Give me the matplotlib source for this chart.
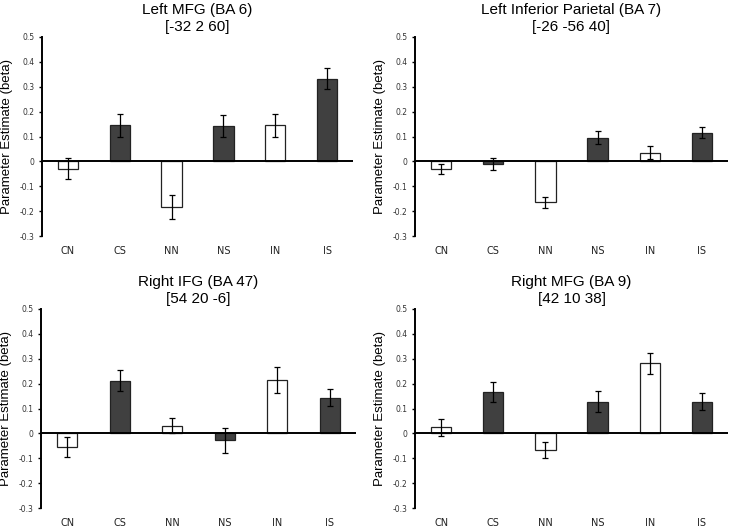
import matplotlib.pyplot as plt
import numpy as np

conditions = ["CN", "CS", "NN", "NS", "IN", "IS"]
bar_colors = ["white", "#404040", "white", "#404040", "white", "#404040"]

titles = ["Left MFG (BA 6)\n[-32 2 60]",
          "Left Inferior Parietal (BA 7)\n[-26 -56 40]",
          "Right IFG (BA 47)\n[54 20 -6]",
          "Right MFG (BA 9)\n[42 10 38]"]

left_mfg = [-0.030, 0.145, -0.182, 0.142, 0.145, 0.332]
left_mfg_err = [0.042, 0.047, 0.048, 0.045, 0.045, 0.043]

left_parietal = [-0.030, -0.012, -0.164, 0.095, 0.035, 0.116]
left_parietal_err = [0.021, 0.024, 0.022, 0.027, 0.026, 0.022]

right_ifg = [-0.053, 0.211, 0.031, -0.027, 0.214, 0.143]
right_ifg_err = [0.040, 0.042, 0.031, 0.050, 0.051, 0.034]

right_mfg = [0.024, 0.167, -0.067, 0.128, 0.281, 0.128]
right_mfg_err = [0.033, 0.039, 0.034, 0.041, 0.042, 0.035]

values = [left_mfg, left_parietal, right_ifg, right_mfg]
errors = [left_mfg_err, left_parietal_err, right_ifg_err, right_mfg_err]

yticks = [-0.3, -0.2, -0.1, 0, 0.1, 0.2, 0.3, 0.4, 0.5]
ytick_labels = ["-0.3", "-0.2", "-0.1", "0", "0.1", "0.2", "0.3", "0.4", "0.5"]

W, H = 734, 531
fig = plt.figure(figsize=(W / 100, H / 100), dpi=100)

# cajas de los ejes en pixeles: izquierda, derecha, arriba (0.5), abajo (-0.3)
boxes = [(42, 353, 37, 236), (415, 728, 37, 236),
         (41, 356, 309, 508), (415, 728, 309, 508)]

for i, (l, r, t, b) in enumerate(boxes):
    ax = fig.add_axes([l / W, 1 - b / H, (r - l) / W, (b - t) / H])
    x = np.arange(len(conditions))
    ax.bar(x, values[i], width=0.39, color=bar_colors,
           edgecolor="#222222", linewidth=0.9, zorder=2)
    ax.errorbar(x, values[i], yerr=errors[i], fmt="none", ecolor="black",
                elinewidth=0.9, capsize=2.2, capthick=0.9, zorder=3)
    ax.axhline(0, color="black", lw=1.4, zorder=4)

    ax.set_xlim(-0.5, 5.5)
    ax.set_ylim(-0.3, 0.5)
    ax.set_yticks(yticks)
    ax.set_yticklabels(ytick_labels, fontsize=5.5, color="#333333")
    ax.tick_params(axis="y", length=2.5, width=1, direction="out", pad=3)

    ax.set_xticks(x)
    ax.set_xticklabels(conditions, fontsize=7, color="#222222")
    ax.tick_params(axis="x", length=0, pad=7)

    for s in ["top", "right", "bottom"]:
        ax.spines[s].set_visible(False)
    ax.spines["left"].set_linewidth(1.4)

    ax.set_ylabel("Parameter Estimate (beta)", family="Liberation Sans",
                  fontsize=9.5, labelpad=5)
    ax.set_title(titles[i], family="Liberation Sans", fontsize=11,
                 linespacing=1.3, pad=4)

fig.savefig("out.png", dpi=100, facecolor="white")
